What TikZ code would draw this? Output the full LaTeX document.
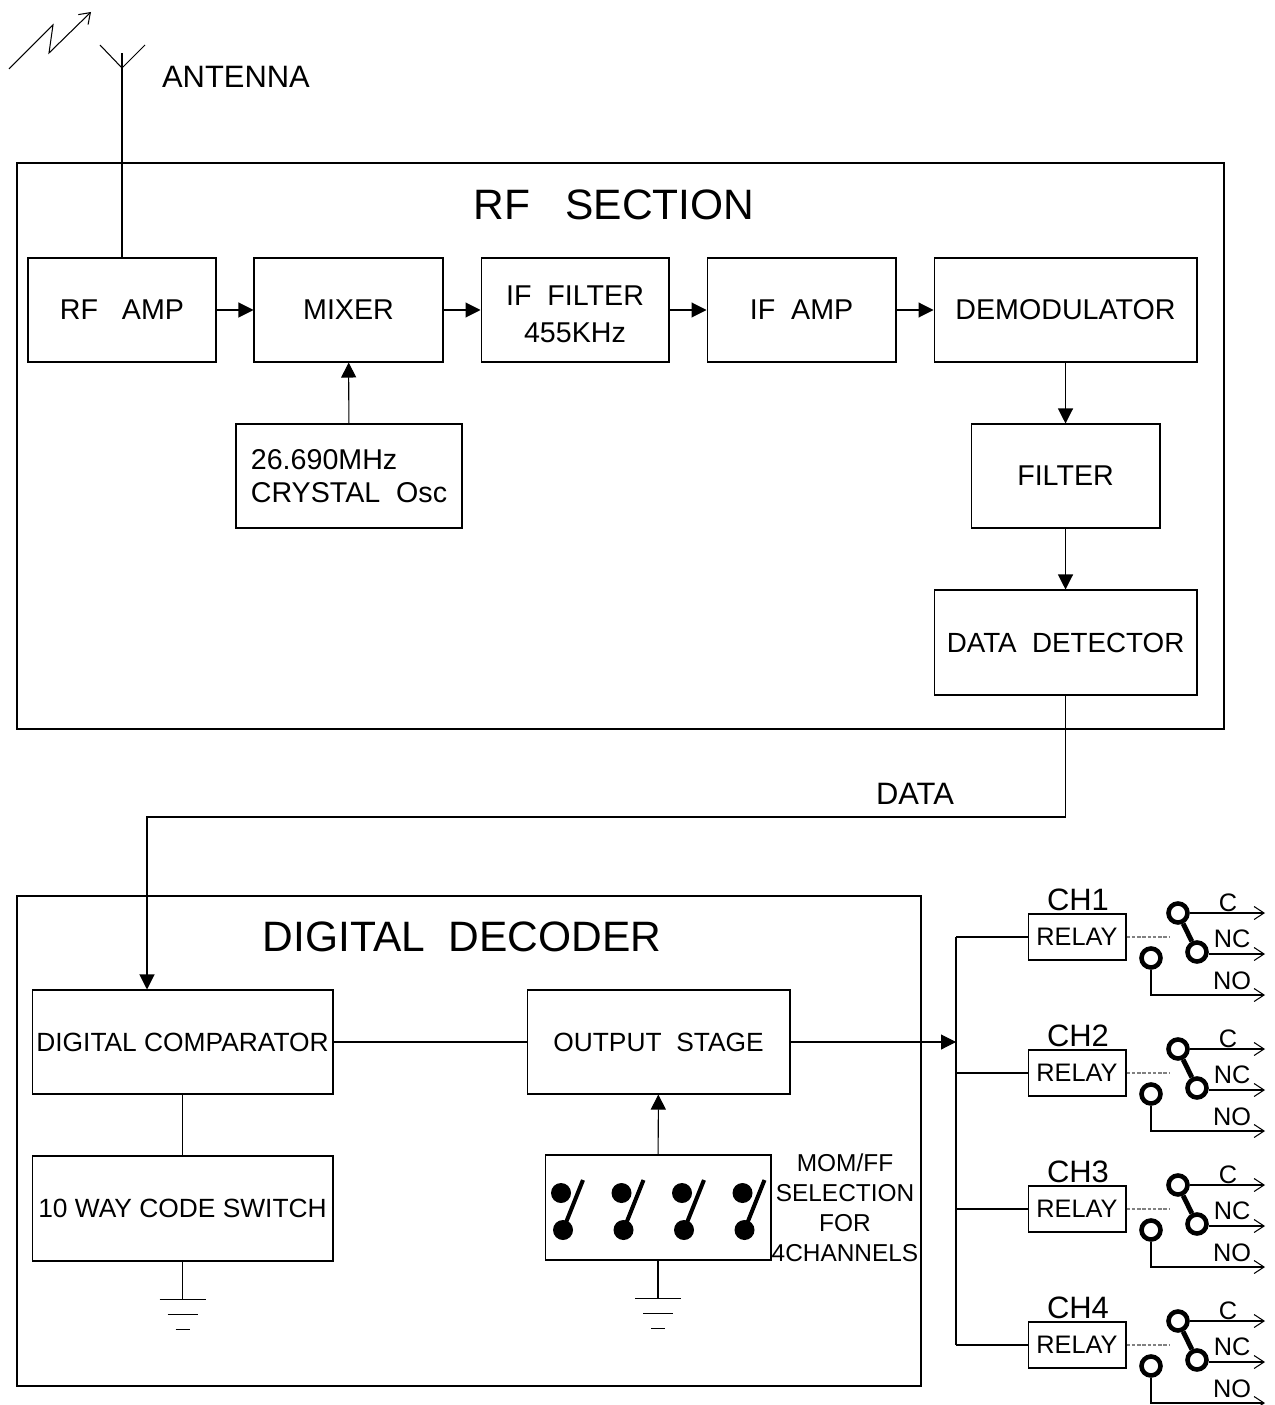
\documentclass[tikz,border=0pt]{standalone}
\usepackage{fontspec}
\setmainfont{Liberation Sans}
\usetikzlibrary{arrows.meta}

\begin{document}
\begin{tikzpicture}[x=0.02cm, y=-0.02cm, line width=0.6pt, >={Triangle[length=0.3cm, width=0.3cm]},
    block/.style={draw, inner sep=0pt, minimum height=2.08cm, align=center, font=\fontsize{16.3pt}{21pt}\selectfont},
    dblock/.style={block, font=\fontsize{15pt}{18pt}\selectfont},
    relaybox/.style={draw, inner sep=0pt, minimum width=1.96cm, minimum height=0.92cm, font=\fontsize{14.4pt}{17pt}\selectfont},
    titletxt/.style={font=\fontsize{24.2pt}{28pt}\selectfont},
    bigtxt/.style={font=\fontsize{17.6pt}{20pt}\selectfont},
    smalltxt/.style={inner sep=0pt, font=\fontsize{14.4pt}{17pt}\selectfont},
    contact/.style={circle, draw, line width=2.6pt, inner sep=0pt, minimum size=0.38cm},
    dot/.style={circle, fill, inner sep=0pt, minimum size=0.4cm},
    outarrow/.style={-{Straight Barb[length=0.2cm, width=0.26cm]}}]

        \useasboundingbox (0,0) rectangle (1274,1405);

        % Antenna
        \draw[-{Straight Barb[length=0.2cm, width=0.28cm]}] (9,69) -- (53,25) -- (49,53) -- (91,12);
        \coordinate (antfork) at (122,68);
        \draw (100,45) -- (antfork) -- (145,45);
        \node[bigtxt] (antname) at (236,77) {ANTENNA};

        % RF section
        \draw (17,163) rectangle (1224,729);
        \node[titletxt] (rftitle) at (614,205) {RF\ \ \ SECTION};

        \node[block, minimum width=3.76cm] (rfamp) at (122,310) {RF\ \ \ AMP};
        \node[block, minimum width=3.78cm] (mixer) at (348.5,310) {MIXER};
        \node[block, minimum width=3.76cm] (iffilter) at (575,310) {\rule{0pt}{16pt}IF\ \ FILTER\\455KHz};
        \node[block, minimum width=3.78cm] (ifamp) at (801.5,310) {IF\ \ AMP};
        \node[block, minimum width=5.26cm] (demod) at (1065.5,310) {DEMODULATOR};
        \node[block, minimum width=4.52cm, align=left, font=\fontsize{16.3pt}{18.7pt}\selectfont] (xtal) at (349,476) {26.690MHz\\CRYSTAL\ \ Osc};
        \node[block, minimum width=3.78cm] (filter) at (1065.5,476) {FILTER};
        \node[block, minimum width=5.26cm, minimum height=2.1cm, font=\fontsize{15.8pt}{18pt}\selectfont] (detector) at (1065.5,642.5) {DATA\ \ DETECTOR};

        \draw (rfamp.north) -- (122,53);
        \draw[->] (rfamp) -- (mixer);
        \draw[->] (mixer) -- (iffilter);
        \draw[->] (iffilter) -- (ifamp);
        \draw[->] (ifamp) -- (demod);
        \draw[->] (xtal) -- (mixer);
        \draw[->] (demod) -- (filter);
        \draw[->] (filter) -- (detector);

        % Data line
        \coordinate (bend) at (147,817);
        \node[bigtxt] (datatxt) at (915,794) {DATA};

        % Digital decoder
        \draw (17,896) rectangle (921,1386);
        \node[titletxt] (dectitle) at (462,937) {DIGITAL\ \ DECODER};

        \node[dblock, minimum width=6.02cm] (comparator) at (182.5,1042) {DIGITAL COMPARATOR};
        \node[dblock, minimum width=6.02cm, minimum height=2.1cm] (codesw) at (182.5,1208.5) {10 WAY CODE SWITCH};
        \node[dblock, minimum width=5.26cm] (outstage) at (658.5,1042) {OUTPUT\ \ STAGE};
        \node[dblock, minimum width=4.52cm, minimum height=2.1cm] (selsw) at (658,1207.5) {};
        \node[smalltxt, align=center, font=\fontsize{13.9pt}{17pt}\selectfont] (selnote) at (845,1208) {MOM/FF\\SELECTION\\FOR\\4CHANNELS};

        \draw[->] (detector.south) |- (bend) -- (bend |- comparator.north);
        \draw (comparator) -- (codesw);
        \draw (comparator) -- (outstage);
        \draw[->] (selsw) -- (outstage);

        % Selection switches
        \foreach \k in {0,...,3} {
            \node[dot] (top\k) at (561+60.5*\k,1193) {};
            \node[dot] (bot\k) at (563+60.5*\k,1230) {};
            \draw[line width=2.3pt] (bot\k.center) -- ++(20,-50);
        }

        % Grounds
        \foreach \g in {codesw, selsw} {
            \draw (\g.south) -- ++(0,38) ++(-23,0) -- ++(46,0) ++(-38,15) -- ++(30,0) ++(-22,15) -- ++(14,0);
        }

        % Relays
        \coordinate (busin) at (956,1042);
        \draw[->] (outstage) -- (busin);
        \foreach \i in {1,...,4} {
            \pgfmathsetmacro\ry{937+136*(\i-1)}
            \node[relaybox] (relay\i) at (1077,\ry) {RELAY};
            \node[bigtxt, inner sep=0pt] (ch\i) at (1078,\ry-37) {CH\i};
            \node[contact] (c\i) at (1178,\ry-24) {};
            \node[contact] (nc\i) at (1197,\ry+15) {};
            \node[contact] (no\i) at (1151,\ry+21) {};
            \coordinate (arm\i) at (1170,\ry);
            \coordinate (cout\i) at (1265,\ry-24);
            \coordinate (ncout\i) at (1265,\ry+17);
            \coordinate (noout\i) at (1265,\ry+58);
            \draw (relay\i.west -| busin) -- (relay\i);
            \draw[gray, dash pattern=on 2pt off 1pt] (relay\i) -- (arm\i);
            \draw[line width=2.8pt] (c\i) -- (nc\i);
            \draw[outarrow] (c\i) -- (cout\i);
            \draw[outarrow] (nc\i.east |- ncout\i) -- (ncout\i);
            \draw[outarrow] (no\i) |- (noout\i);
            \node[smalltxt] (ctxt\i) at (1228,\ry-34) {C};
            \node[smalltxt] (nctxt\i) at (1232,\ry+2) {NC};
            \node[smalltxt] (notxt\i) at (1232,\ry+44) {NO};
        }
        \draw (relay1.west -| busin) -- (relay4.west -| busin);

      \end{tikzpicture}
\end{document}
